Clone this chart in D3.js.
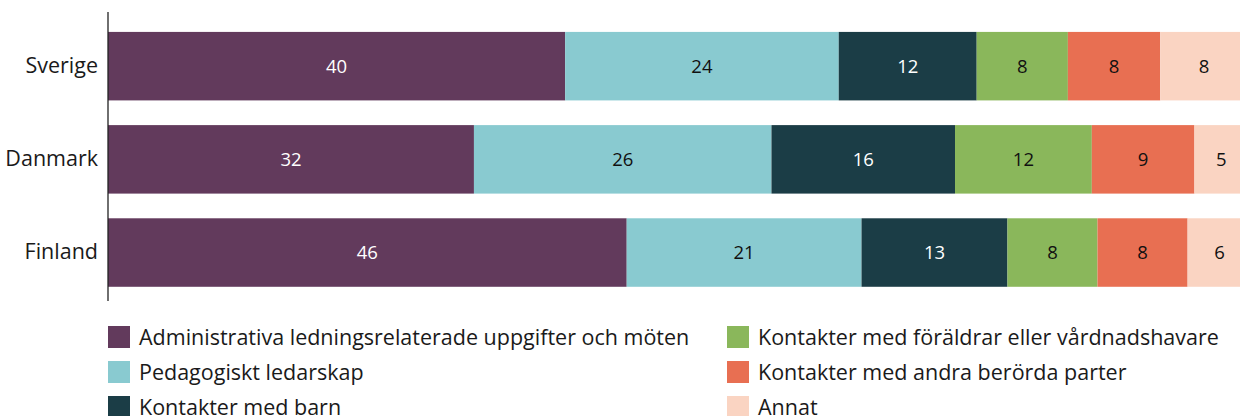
<!DOCTYPE html>
<html>
<head>
<meta charset="utf-8">
<script src="https://cdn.jsdelivr.net/npm/d3@7"></script>
<style>
  body { margin: 0; background: #fff; }
  svg { display: block; font-family: "Open Sans", sans-serif; }
</style>
</head>
<body>
<div id="chart"></div>
<script>
// countries (rows)
const countries = ["Sverige", "Danmark", "Finland"];

// series names (legend order)
const seriesNames = [
  "Administrativa ledningsrelaterade uppgifter och möten",
  "Pedagogiskt ledarskap",
  "Kontakter med barn",
  "Kontakter med föräldrar eller vårdnadshavare",
  "Kontakter med andra berörda parter",
  "Annat"
];

// percent values per series, in country order
const admin    = [40.1, 32.1, 45.5];
const pedagog  = [24.0, 26.1, 20.6];
const barn     = [12.1, 16.1, 12.8];
const foraldr  = [8.0, 12.0, 7.9];
const andra    = [8.1, 9.0, 7.9];
const annat    = [7.7, 4.7, 5.6];

const colors = ["#623a5c", "#89cad0", "#1b3d46", "#8ab75b", "#e86f52", "#fad4c2"];
const textColors = ["#fff", "#111", "#fff", "#111", "#111", "#111"];

const seriesValues = [admin, pedagog, barn, foraldr, andra, annat];

// build rows for d3.stack
const rows = countries.map((c, i) => {
  const r = { country: c };
  seriesNames.forEach((s, j) => { r[s] = seriesValues[j][i]; });
  return r;
});

const width = 1240;
const height = 416;

const svg = d3.select("#chart")
  .append("svg")
  .attr("width", width)
  .attr("height", height);

const x = d3.scaleLinear()
  .domain([0, 100])
  .range([108, 1248]); // right end runs a bit past the frame, like the original

const y = d3.scaleBand()
  .domain(countries)
  .range([22.6, 296.1])
  .paddingInner(0.265)
  .paddingOuter(0.1);

const stacked = d3.stack().keys(seriesNames)(rows);

const layers = svg.selectAll(".layer")
  .data(stacked)
  .enter().append("g")
  .attr("class", "layer")
  .attr("fill", (d, i) => colors[i]);

layers.selectAll("rect")
  .data(d => d)
  .enter().append("rect")
  .attr("x", d => x(d[0]))
  .attr("y", d => y(d.data.country))
  .attr("width", d => x(d[1]) - x(d[0]))
  .attr("height", y.bandwidth());

// value labels centred in each segment
layers.selectAll("text")
  .data((d, i) => d.map(p => ({ p, i })))
  .enter().append("text")
  .attr("x", d => (x(d.p[0]) + x(d.p[1])) / 2)
  .attr("y", d => y(d.p.data.country) + y.bandwidth() / 2)
  .attr("dy", "0.35em")
  .attr("text-anchor", "middle")
  .attr("font-size", 18.5)
  .attr("fill", d => textColors[d.i])
  .text(d => d3.format(".0f")(d.p[1] - d.p[0]));

// y axis: just the line and the country names
const yAxis = svg.append("g")
  .attr("transform", `translate(${x(0)},0)`)
  .call(d3.axisLeft(y).tickSize(0).tickPadding(10));

yAxis.select(".domain")
  .attr("d", "M0,12V301")
  .attr("stroke", "#222")
  .attr("stroke-width", 1.3);

yAxis.selectAll("text")
  .attr("font-size", 21.5)
  .attr("font-family", "'Open Sans', sans-serif")
  .attr("fill", "#1a1a1a");

// legend, two columns of three
const legend = svg.append("g");
const legendItems = legend.selectAll("g")
  .data(seriesNames)
  .enter().append("g")
  .attr("transform", (d, i) => {
    const col = Math.floor(i / 3);
    const row = i % 3;
    return `translate(${col === 0 ? 108 : 727},${326 + row * 35})`;
  });

legendItems.append("rect")
  .attr("width", 22)
  .attr("height", 22)
  .attr("fill", (d, i) => colors[i]);

legendItems.append("text")
  .attr("x", 31)
  .attr("y", 11)
  .attr("dy", "0.35em")
  .attr("font-size", 21.5)
  .attr("fill", "#1a1a1a")
  .text(d => d);
</script>
</body>
</html>
